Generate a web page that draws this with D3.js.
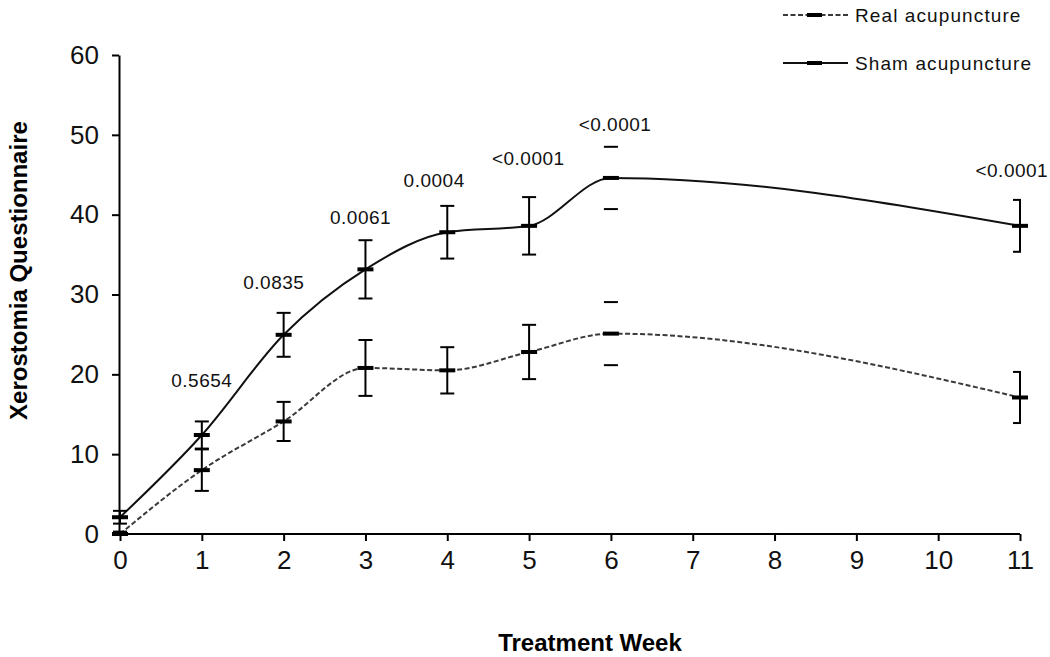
<!DOCTYPE html>
<html><head><meta charset="utf-8">
<script src="https://cdn.jsdelivr.net/npm/d3@7"></script>
<style>
body{margin:0;background:#fff;}
svg{display:block;font-family:"Liberation Sans",Arial,sans-serif;}
</style></head>
<body><svg id="chart" width="1050" height="657"></svg>
<script>
// ---- data ----
const weeks = [0, 1, 2, 3, 4, 5, 6, 11];
const realValues = [0, 8.0, 14.1, 20.8, 20.5, 22.8, 25.1, 17.1];
const realErrors = [0.3, 2.6, 2.45, 3.5, 2.9, 3.4, 3.95, 3.2];
const shamValues = [2.1, 12.4, 24.95, 33.15, 37.8, 38.6, 44.6, 38.6];
const shamErrors = [0.8, 1.7, 2.75, 3.65, 3.3, 3.6, 3.9, 3.25];
const pValueLabels = ["0.5654", "0.0835", "0.0061", "0.0004", "<0.0001", "<0.0001", "<0.0001"];
const pValueWeek = [1.0, 1.88, 2.94, 3.84, 4.99, 6.05, 10.9];
const pValueLevel = [19.3, 31.6, 39.7, 44.4, 47.1, 51.3, 45.6];
const xTicks = [0, 1, 2, 3, 4, 5, 6, 7, 8, 9, 10, 11];
const yTicks = [0, 10, 20, 30, 40, 50, 60];
const seriesNames = ["Real acupuncture", "Sham acupuncture"];

const svg = d3.select("#chart");
const x = d3.scaleLinear().domain([0, 11]).range([120, 1020]);
const y = d3.scaleLinear().domain([0, 60]).range([534, 55]);

// axes
const yAxis = svg.append("g").attr("transform", `translate(${x(0) - 1},0)`)
  .call(d3.axisLeft(y).tickValues(yTicks).tickSize(7).tickSizeOuter(0).tickPadding(13));
const xAxis = svg.append("g").attr("transform", `translate(0,${y(0)})`)
  .call(d3.axisBottom(x).tickValues(xTicks).tickSize(7).tickSizeOuter(0).tickPadding(10));
[yAxis, xAxis].forEach(g => {
  g.select(".domain").attr("stroke", "#000").attr("stroke-width", 2);
  g.selectAll(".tick line").attr("stroke", "#000").attr("stroke-width", 2);
  g.selectAll(".tick text").attr("fill", "#111").style("font-size", "26px");
});
xAxis.select(".domain").attr("d", `M${x(0) - 2},0H${x(11)}`);

// axis titles
svg.append("text").attr("transform", `translate(27,${y(33)}) rotate(-90)`)
  .attr("text-anchor", "middle").style("font-size", "24px").style("font-weight", "bold")
  .text("Xerostomia Questionnaire");
svg.append("text").attr("x", 590).attr("y", 651).attr("text-anchor", "middle")
  .style("font-size", "24px").style("font-weight", "bold").text("Treatment Week");

// clip for error bar caps
svg.append("clipPath").attr("id", "plotclip").append("rect")
  .attr("x", 100).attr("y", 0).attr("width", x(11) + 1 - 100).attr("height", 600);

const series = [
  {name: seriesNames[0], vals: realValues, errs: realErrors, dash: "5,2.5", color: "#3a3a3a"},
  {name: seriesNames[1], vals: shamValues, errs: shamErrors, dash: null, color: "#111"}
];

const line = d3.line().x(d => x(d[0])).y(d => y(d[1])).curve(d3.curveMonotoneX);

series.forEach(s => {
  const pts = weeks.map((w, i) => [w, s.vals[i], s.errs[i]]);
  svg.append("path").datum(pts).attr("d", line).attr("fill", "none")
    .attr("stroke", s.color).attr("stroke-width", 2)
    .attr("stroke-dasharray", s.dash);
  const eb = svg.append("g").attr("clip-path", "url(#plotclip)");
  pts.forEach(p => {
    const cx = x(p[0]), yt = y(p[1] + p[2]), yb = y(p[1] - p[2]);
    if (p[0] !== 6) {
      eb.append("line").attr("x1", cx).attr("x2", cx).attr("y1", yt).attr("y2", Math.min(yb, y(0)))
        .attr("stroke", "#000").attr("stroke-width", 2);
    }
    [yt, yb].forEach(yy => {
      if (yy <= y(0) + 1) eb.append("line").attr("x1", cx - 7).attr("x2", cx + 7).attr("y1", yy).attr("y2", yy)
        .attr("stroke", "#000").attr("stroke-width", 2);
    });
  });
  svg.append("g").selectAll("rect").data(pts).join("rect")
    .attr("x", d => x(d[0]) - 8).attr("y", d => y(d[1]) - 2).attr("width", 16).attr("height", 4)
    .attr("fill", "#000");
});

// p-value labels
svg.append("g").selectAll("text").data(pValueLabels).join("text")
  .attr("x", (d, i) => x(pValueWeek[i])).attr("y", (d, i) => y(pValueLevel[i]) + 7)
  .attr("text-anchor", "middle").style("font-size", "19px").style("letter-spacing", "0.5px")
  .attr("fill", "#111").text(d => d);

// legend
const legend = svg.append("g");
[15, 63].forEach((ly, i) => {
  const s = series[i];
  legend.append("line").attr("x1", 783).attr("x2", 848).attr("y1", ly).attr("y2", ly)
    .attr("stroke", s.color).attr("stroke-width", 2).attr("stroke-dasharray", s.dash);
  legend.append("rect").attr("x", 807).attr("y", ly - 2).attr("width", 15).attr("height", 4).attr("fill", "#000");
  legend.append("text").attr("x", 855).attr("y", ly + 7).style("font-size", "19px")
    .style("letter-spacing", "1.1px").attr("fill", "#111").text(s.name);
});
</script></body></html>
